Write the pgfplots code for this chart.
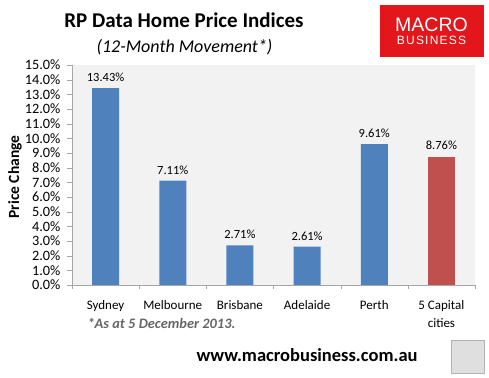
\documentclass[border=0pt]{standalone}
\usepackage{pgfplots}
\pgfplotsset{compat=1.18}
\usepackage{fontspec}
\setmainfont{Carlito}
\newfontfamily\logofont{Liberation Sans}
\definecolor{barblue}{HTML}{4F81BD}
\definecolor{barred}{HTML}{C0504D}
\definecolor{plotbg}{HTML}{F2F2F2}
\definecolor{logored}{HTML}{E3161B}
\begin{document}
\begin{tikzpicture}
\useasboundingbox (0pt,0pt) rectangle (489pt,377pt);
\begin{axis}[
  at={(72pt,92pt)}, anchor=south west,
  scale only axis, width=403pt, height=220pt,
  xmin=-0.5, xmax=5.5, ymin=0, ymax=15,
  axis background/.style={fill=plotbg},
  axis x line*=bottom, axis y line*=left,
  axis line style={draw=gray!70},
  ybar, bar width=27pt, bar shift=0pt,
  xtick={0,...,5}, major x tick style={draw=none},
  xticklabels={Sydney,Melbourne,Brisbane,Adelaide,Perth,{5 Capital\\cities}},
  x tick label style={align=center, font=\fontsize{13}{17.5}\selectfont, yshift=-7pt},
  minor xtick={-0.5,0.5,...,5.5},
  minor x tick style={draw=gray!70},
  tick align=outside, minor tick length=4pt, major tick length=5pt,
  ytick={0,1,...,15},
  y tick style={draw=gray!70},
  /pgf/number format/assume math mode=true,
  yticklabel={\pgfmathprintnumber[fixed,fixed zerofill,precision=1]{\tick}\%},
  y tick label style={font=\fontsize{14.3}{14}\selectfont, xshift=-3pt},
  nodes near coords={\pgfmathprintnumber[fixed,fixed zerofill,precision=2]{\pgfplotspointmeta}\%},
  every node near coord/.append style={font=\fontsize{12.5}{14}\selectfont, yshift=3pt},
  clip=false,
]
\addplot[fill=barblue, draw=none] coordinates {(0,13.43) (1,7.11) (2,2.71) (3,2.61) (4,9.61)};
\addplot[fill=barred, draw=none] coordinates {(5,8.76)};
\end{axis}
\node[font=\fontsize{15.5}{17}\selectfont\bfseries, rotate=90] at (15pt,200pt) {Price Change};
\node[font=\fontsize{21}{23}\selectfont\bfseries] at (184pt,357pt) {RP Data Home Price Indices};
\node[font=\fontsize{18}{20}\selectfont\itshape] at (184.5pt,330pt) {(12-Month Movement*)};
\node[font=\fontsize{14.4}{16}\selectfont\bfseries\itshape, text=gray!80!black, anchor=west] at (84pt,54pt) {*As at 5 December 2013.};
\node[font=\fontsize{18.5}{20}\selectfont\bfseries, anchor=west] at (193pt,22pt) {www.macrobusiness.com.au};
\fill[logored] (380pt,320pt) rectangle (484pt,372pt);
\node[text=white, font=\logofont\fontsize{19.5}{20}\selectfont] at (431.5pt,352.5pt) {MACRO};
\node[text=white, font=\logofont\fontsize{12}{12}\selectfont] at (431.5pt,336.5pt) {B\kern1.2pt U\kern1.2pt S\kern1.2pt I\kern1.2pt N\kern1.2pt E\kern1.2pt S\kern1.2pt S};
\draw[gray!60, fill=gray!25] (451pt,4pt) rectangle (484pt,37pt);
\end{tikzpicture}
\end{document}
